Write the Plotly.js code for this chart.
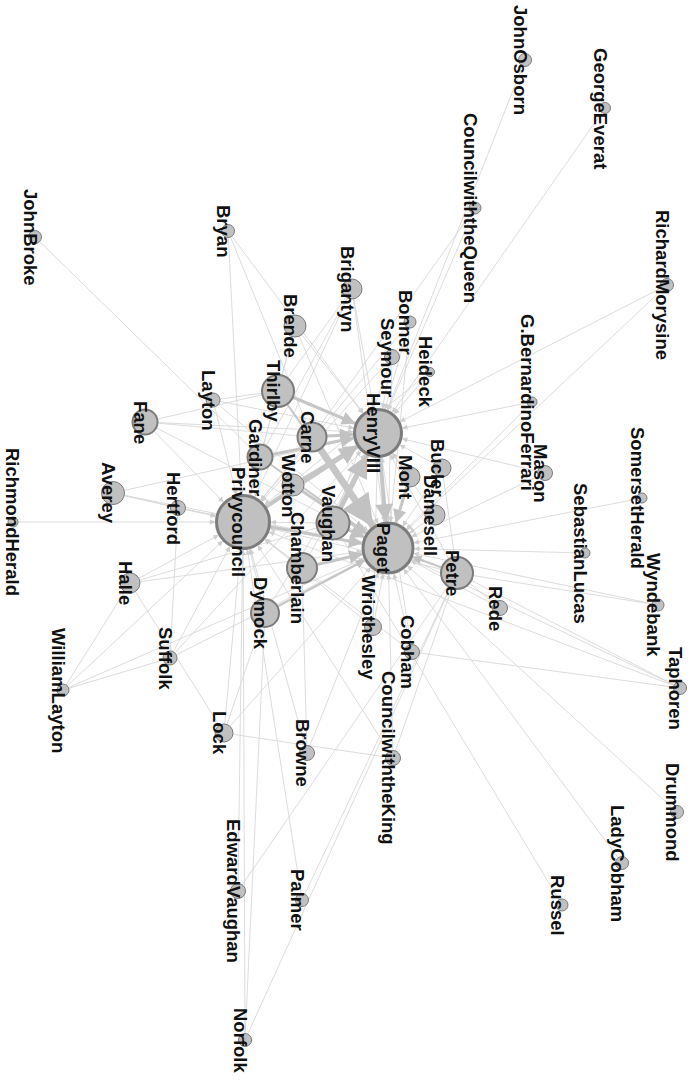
<!DOCTYPE html>
<html>
<head>
<meta charset="utf-8">
<script src="https://cdn.plot.ly/plotly-3.0.1.min.js"></script>
<style>html,body{margin:0;padding:0;background:#fff;}#chart{width:693px;height:1081px;}</style>
</head>
<body>
<div id="chart"></div>
<script>
// Node names, positions (layout coordinates) and sizes
const nodeNames = ["JohnOsborn","GeorgeEverat","CouncilwiththeQueen","RichardMorysine","JohnBroke","Bryan","Brigantyn","Brende","Bonner","Seymour","Heideck","G.BernardinoFerrari","Mason","SomersetHerald","SebastianLucas","Wyndebank","Taphoren","Drummond","LadyCobham","Russel","CouncilwiththeKing","Cobham","Wriothesley","Browne","Lock","EdwardVaughan","Palmer","Norfolk","WilliamLayton","RichmondHerald","Suffolk","Halle","Averey","Hertford","Fane","Layton","Thirlby","Carne","Gardiner","Wotton","Privycouncil","Vaughan","Chamberlain","Dymock","HenryVIII","Mont","Bucler","Damesell","Paget","Petre","Rede"];
const nodeX = [525,605,475,667,35,228,352,295,410,392,430,532,545,642,585,658,680,677,622,562,393,412,373,307,224,238,302,245,63,13,170,130,113,178,145,213,278,312,260,293,243,333,302,265,378,410,442,435,388,457,500];
const nodeY = [60,108,208,285,237,231,289,326,322,357,372,402,473,498,553,605,688,812,863,905,758,652,627,753,733,891,900,1040,690,522,658,583,493,508,422,400,391,437,457,485,522,523,568,613,433,477,468,515,548,573,608];
const nodeSize = [13,11,12,13,13,13,20,22,12,15,9,10,15,10,10,12,13,13,13,12,15,15,17,15,18,15,13,13,12,10,14,20,23,15,25,14,32,29,25,22,53,33,30,28,47,20,18,20,50,32,15];

// Edges: source, target, weight
const edgeFrom = ["JohnOsborn","GeorgeEverat","CouncilwiththeQueen","CouncilwiththeQueen","RichardMorysine","RichardMorysine","JohnBroke","Bryan","Bryan","Bryan","Brigantyn","Brigantyn","Brigantyn","Brigantyn","Brigantyn","Brende","Brende","Brende","Brende","Bonner","Bonner","Bonner","Seymour","Seymour","Seymour","Seymour","Heideck","Heideck","G.BernardinoFerrari","G.BernardinoFerrari","Mason","Mason","SomersetHerald","SebastianLucas","Wyndebank","Wyndebank","Taphoren","Taphoren","Taphoren","Taphoren","Drummond","LadyCobham","Russel","CouncilwiththeKing","CouncilwiththeKing","CouncilwiththeKing","CouncilwiththeKing","Cobham","Cobham","Cobham","Wriothesley","Wriothesley","Wriothesley","Browne","Browne","Browne","Lock","Lock","Lock","Lock","EdwardVaughan","EdwardVaughan","Palmer","Palmer","Norfolk","Norfolk","Norfolk","WilliamLayton","WilliamLayton","WilliamLayton","WilliamLayton","RichmondHerald","Suffolk","Suffolk","Suffolk","Suffolk","Halle","Halle","Halle","Averey","Averey","Averey","Averey","Hertford","Hertford","Fane","Fane","Fane","Fane","Fane","Layton","Layton","Layton","Layton","Thirlby","Gardiner","Wotton","Chamberlain","Dymock","Dymock","Vaughan","Mont","Bucler","Bucler","Bucler","Damesell","Damesell","Rede","Rede","Petre","Petre","Chamberlain","Carne",
  "HenryVIII","Carne","Carne","Privycouncil","Privycouncil","Vaughan","Vaughan","Wotton","Wotton","Thirlby","Thirlby","Gardiner","Gardiner","Chamberlain","Dymock","Petre","Mont"];
const edgeTo = ["HenryVIII","HenryVIII","HenryVIII","Carne","HenryVIII","Paget","Gardiner","Privycouncil","Carne","HenryVIII","Thirlby","Gardiner","Privycouncil","HenryVIII","Paget","Thirlby","HenryVIII","Paget","Privycouncil","HenryVIII","Paget","Privycouncil","HenryVIII","Paget","Privycouncil","Vaughan","HenryVIII","Privycouncil","HenryVIII","Paget","HenryVIII","Paget","Paget","Paget","Petre","Paget","Cobham","Petre","Paget","Privycouncil","Paget","Paget","Vaughan","Paget","Privycouncil","Petre","Lock","Paget","Privycouncil","HenryVIII","Paget","Privycouncil","HenryVIII","Chamberlain","Paget","Privycouncil","Privycouncil","Dymock","Halle","Paget","Petre","Privycouncil","Privycouncil","Petre","Privycouncil","Petre","Dymock","Privycouncil","Suffolk","Halle","Paget","Privycouncil","Privycouncil","Paget","Hertford","HenryVIII","Privycouncil","Paget","Vaughan","Privycouncil","HenryVIII","Paget","Hertford","Privycouncil","Paget","Privycouncil","Thirlby","HenryVIII","Paget","Carne","Thirlby","Privycouncil","HenryVIII","Paget","Privycouncil","Privycouncil","Privycouncil","Privycouncil","Privycouncil","HenryVIII","Privycouncil","HenryVIII","Paget","HenryVIII","Petre","Paget","HenryVIII","Paget","Petre","HenryVIII","Privycouncil","HenryVIII","Privycouncil",
  "Paget","Paget","HenryVIII","HenryVIII","Paget","HenryVIII","Paget","HenryVIII","Paget","HenryVIII","Paget","HenryVIII","Paget","Paget","Paget","Paget","Paget"];
const edgeWeight = [1,1,1,1,1,1,1,1,1,1,1,1,1,1,1,1,1,1,1,1,1,1,1,1,1,1,1,1,1,1,1,1,1,1,1,1,1,1,1,1,1,1,1,1,1,1,1,1,1,1,1,1,1,1,1,1,1,1,1,1,1,1,1,1,1,1,1,1,1,1,1,1,1,1,1,1,1,1,1,1,1,1,1,1,1,1,1,1,1,1,1,1,1,1,1,1,1,1,1,1,1,1,1,1,1,1,1,1,1,1,1,1,1,
  4,7,3,4,3,5,3,3,3,3,2,3,2,3,2,2,3];

const idx = {};
nodeNames.forEach((n, i) => { idx[n] = i; });

const traces = [];
const weights = Array.from(new Set(edgeWeight)).sort((a, b) => a - b);
weights.forEach(w => {
  const xs = [], ys = [];
  edgeFrom.forEach((f, k) => {
    if (edgeWeight[k] !== w) return;
    const a = idx[f], b = idx[edgeTo[k]];
    xs.push(nodeX[a], nodeX[b], null);
    ys.push(nodeY[a], nodeY[b], null);
  });
  traces.push({
    type: 'scatter', mode: 'lines', x: xs, y: ys, hoverinfo: 'skip',
    line: { color: w === 1 ? '#d8d8d8' : '#c6c6c6', width: w === 1 ? 0.9 : w },
    showlegend: false
  });
});

traces.push({
  type: 'scatter', mode: 'markers', x: nodeX, y: nodeY, text: nodeNames,
  hoverinfo: 'text', showlegend: false,
  marker: {
    size: nodeSize, color: '#c0c0c0', opacity: 1,
    line: { color: '#7c7c7c', width: nodeSize.map(s => s >= 45 ? 3 : (s >= 25 ? 2 : 1)) }
  }
});

// Arrowheads at the target end of heavier edges and edges into central nodes
const arrowAnns = [];
edgeFrom.forEach((f, k) => {
  const a = idx[f], b = idx[edgeTo[k]];
  const w = edgeWeight[k];
  if (w === 1 && nodeSize[b] < 45) return;
  const dx = nodeX[a] - nodeX[b], dy = nodeY[a] - nodeY[b];
  const L = Math.hypot(dx, dy);
  const r = nodeSize[b] / 2;
  const back = r + (w === 1 ? 9 : 14);
  arrowAnns.push({
    x: nodeX[b], y: nodeY[b], xref: 'x', yref: 'y',
    ax: nodeX[b] + dx / L * back, ay: nodeY[b] + dy / L * back, axref: 'x', ayref: 'y',
    showarrow: true, arrowhead: 2, arrowsize: w === 1 ? 1.2 : 0.9,
    arrowwidth: w === 1 ? 0.9 : w, arrowcolor: w === 1 ? '#cfcfcf' : '#c2c2c2',
    standoff: r + 1, text: ''
  });
});

const labelAnns = nodeNames.map((n, i) => ({
  x: nodeX[i], y: nodeY[i], xref: 'x', yref: 'y', text: '<b>' + n + '</b>',
  showarrow: false, textangle: 90, xshift: nodeX[i] < 20 ? 0 : -4,
  font: { family: 'Liberation Sans, Arial, sans-serif', size: 18.5, color: '#111111' }
}));

const layout = {
  width: 693, height: 1081,
  margin: { l: 0, r: 0, t: 0, b: 0 },
  paper_bgcolor: '#ffffff', plot_bgcolor: '#ffffff',
  xaxis: { range: [0, 693], visible: false, fixedrange: true },
  yaxis: { range: [1081, 0], visible: false, fixedrange: true },
  annotations: arrowAnns.concat(labelAnns),
  showlegend: false
};

Plotly.newPlot('chart', traces, layout, { displayModeBar: false, staticPlot: true });
</script>
</body>
</html>
